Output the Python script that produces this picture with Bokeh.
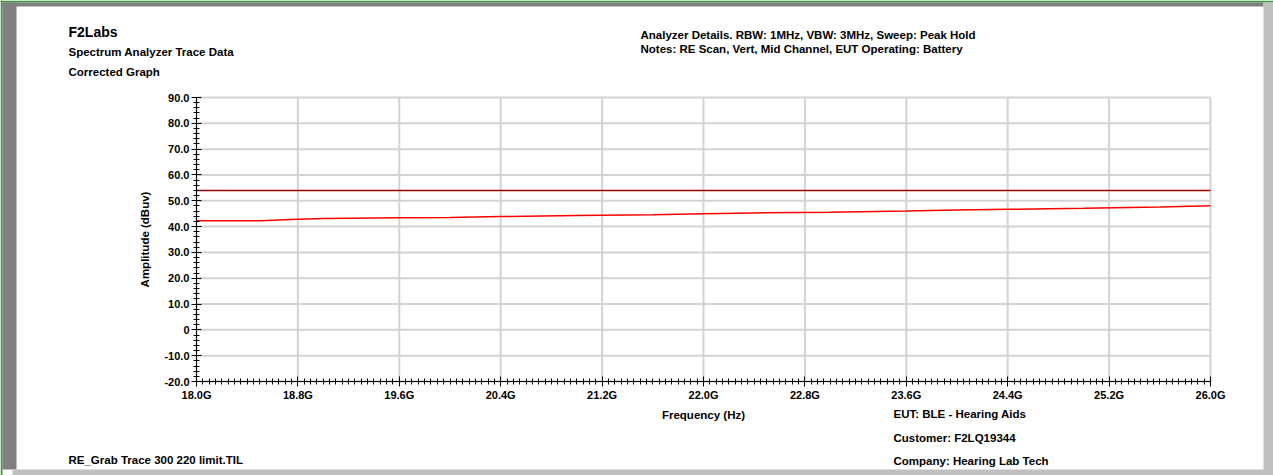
from bokeh.plotting import figure
from bokeh.models import Range1d, FixedTicker, Label, BoxAnnotation
from bokeh.embed import file_html
from bokeh.resources import INLINE

# ---------------- data ----------------
freq_ghz = [18.0, 18.3, 18.5, 18.8, 19.0, 19.6, 20.0, 20.4, 21.0, 21.6, 22.0,
            22.4, 23.0, 23.6, 24.0, 24.4, 25.0, 25.6, 26.0]
trace_dbuv = [42.3, 42.3, 42.3, 42.8, 43.1, 43.4, 43.5, 43.9, 44.3, 44.6, 45.0,
              45.3, 45.6, 46.0, 46.4, 46.7, 47.1, 47.6, 48.1]
limit_freq_ghz = [18.0, 26.0]
limit_dbuv = [54.0, 54.0]

x_major = [18.0, 18.8, 19.6, 20.4, 21.2, 22.0, 22.8, 23.6, 24.4, 25.2, 26.0]
x_labels = ["18.0G", "18.8G", "19.6G", "20.4G", "21.2G", "22.0G", "22.8G",
            "23.6G", "24.4G", "25.2G", "26.0G"]
y_major = [-20, -10, 0, 10, 20, 30, 40, 50, 60, 70, 80, 90]
y_labels = ["-20.0", "-10.0", "0", "10.0", "20.0", "30.0", "40.0", "50.0",
            "60.0", "70.0", "80.0", "90.0"]

title_lines = ["F2Labs", "Spectrum Analyzer Trace Data", "Corrected Graph"]
note_lines = ["Analyzer Details.  RBW: 1MHz, VBW: 3MHz, Sweep: Peak Hold",
              "Notes:  RE Scan, Vert, Mid Channel, EUT Operating: Battery"]
info_lines = ["EUT: BLE - Hearing Aids", "Customer: F2LQ19344",
              "Company: Hearing Lab Tech"]
file_name = "RE_Grab Trace 300 220 limit.TIL"

# ---------------- layout ----------------
W, H = 1273, 475
PL, PR, PT, PB = 196, 1210, 97, 381      # plot-area edges on the canvas (px)
X0, X1 = x_major[0], x_major[-1]
Y0, Y1 = y_major[0], y_major[-1]
FONT = "Liberation Sans"
TXT = "11.5px"

kx = (PR - PL) / (X1 - X0)
ky = (PB - PT) / (Y1 - Y0)
xr = Range1d(X0 - PL / kx, X1 + (W - PR) / kx)
yr = Range1d(Y0 - (H - PB) / ky, Y1 + PT / ky)

p = figure(width=W, height=H, output_backend="svg", toolbar_location=None,
           x_range=xr, y_range=yr, min_border=0,
           background_fill_color="white", border_fill_color="white",
           outline_line_color=None)


def dx(xa):
    return xr.start + xa / kx


def dy(ya):
    return yr.end - ya / ky


# axes fixed at the plot-area edges
xminor = []
for i in range(len(x_major) - 1):
    a, b = x_major[i], x_major[i + 1]
    for k in range(1, 16):
        xminor.append(a + (b - a) * k / 16)
yminor = []
for i in range(len(y_major) - 1):
    for k in range(1, 5):
        yminor.append(y_major[i] + (y_major[i + 1] - y_major[i]) * k / 5)

p.xaxis.ticker = FixedTicker(ticks=x_major, minor_ticks=xminor)
p.yaxis.ticker = FixedTicker(ticks=y_major, minor_ticks=yminor)
p.xaxis.major_label_overrides = {v: s for v, s in zip(x_major, x_labels)}
p.yaxis.major_label_overrides = {v: s for v, s in zip(y_major, y_labels)}
p.xaxis.fixed_location = Y0
p.yaxis.fixed_location = X0
p.xaxis.bounds = (X0, X1)
p.yaxis.bounds = (Y0, Y1)

for ax in (p.xaxis[0], p.yaxis[0]):
    ax.axis_line_color = "black"
    ax.axis_line_width = 1
    ax.major_tick_line_color = "black"
    ax.minor_tick_line_color = "black"
    ax.major_tick_in = 5
    ax.major_tick_out = 5
    ax.minor_tick_in = 3
    ax.minor_tick_out = 3
    ax.major_label_text_font = FONT
    ax.major_label_text_font_style = "bold"
    ax.major_label_text_font_size = "11px"
    ax.major_label_text_color = "black"
    ax.axis_label_text_font = FONT
    ax.axis_label_text_font_style = "bold"
    ax.axis_label_text_font_size = TXT
    ax.axis_label_text_color = "black"
    ax.major_label_standoff = 2

p.xaxis.axis_label = "Frequency (Hz)"
p.yaxis.axis_label = "Amplitude (dBuv)"
p.xaxis.axis_label_standoff = 5
p.yaxis.axis_label_standoff = 10

p.grid.visible = False

# grid lines at the major ticks, limited to the plot area
p.segment(x0=x_major, y0=[Y0] * len(x_major), x1=x_major, y1=[Y1] * len(x_major),
          line_color="#d3d3d3", line_width=2)
p.segment(x0=[X0] * len(y_major), y0=y_major, x1=[X1] * len(y_major), y1=y_major,
          line_color="#d3d3d3", line_width=2)

# series
p.line(limit_freq_ghz, limit_dbuv, line_color="#990000", line_width=1.5)
p.line(freq_ghz, trace_dbuv, line_color="#ff0000", line_width=1.5)


# texts
def add_text(txt, xa, ya, size=TXT):
    p.add_layout(Label(x=dx(xa), y=dy(ya), text=txt, text_font=FONT,
                       text_font_style="bold", text_font_size=size,
                       text_color="black", text_align="left",
                       text_baseline="middle"))


add_text(title_lines[0], 68, 31, "14px")
add_text(title_lines[1], 68, 51)
add_text(title_lines[2], 68, 71)
add_text(note_lines[0], 640, 34)
add_text(note_lines[1], 640, 48)
add_text(info_lines[0], 893, 413)
add_text(info_lines[1], 893, 437)
add_text(info_lines[2], 893, 460)
add_text(file_name, 68, 459)


# frame decoration
def band(l, r, t, b, color):
    p.add_layout(BoxAnnotation(left=dx(l), right=dx(r), top=dy(t),
                               bottom=dy(b), fill_color=color,
                               fill_alpha=1.0, line_color=None,
                               level="overlay"))


band(0, W, 0, 2, "#3a9a3a")          # green top
band(0, 2, 0, H, "#3a9a3a")          # green left
band(2, W - 10, 2, 6, "#808080")     # dark top
band(2, 16, 2, H - 6, "#808080")     # dark left
band(W - 10, W, 2, H, "#c0c0c0")     # light right
band(12, W, H - 6, H, "#c0c0c0")     # light bottom

open("out.html", "w").write(file_html(p, INLINE))
